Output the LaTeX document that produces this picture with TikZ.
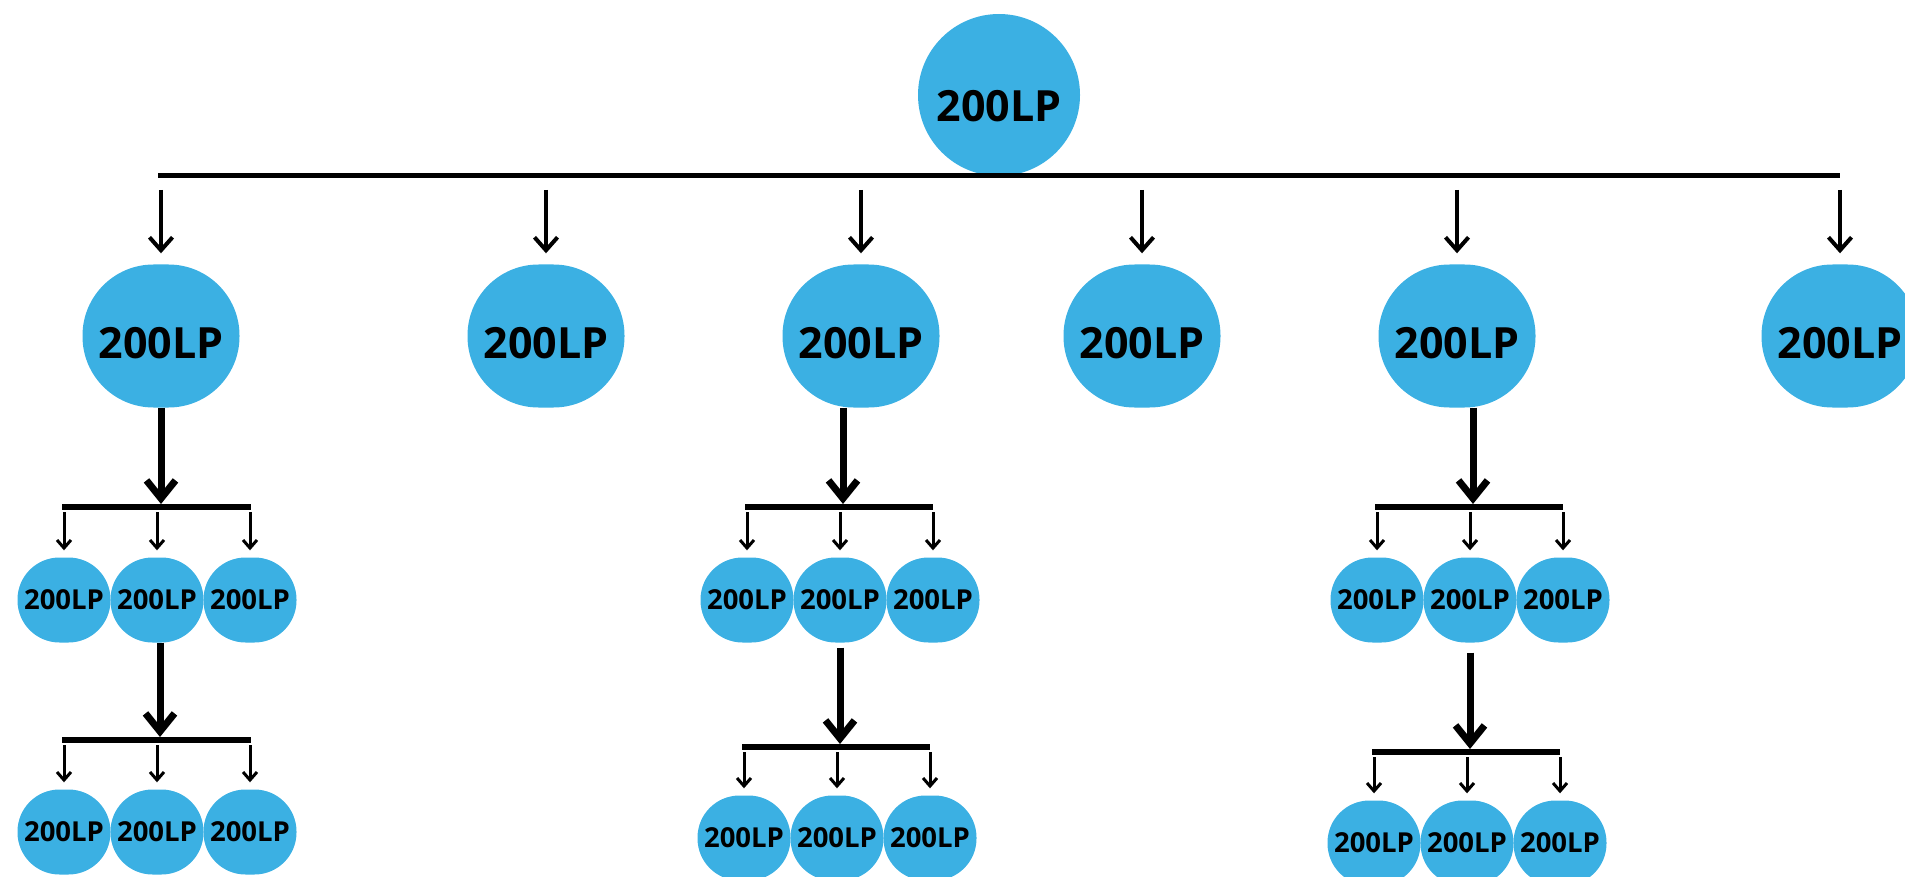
\documentclass[tikz,border=0pt]{standalone}
\usepackage{fontspec}
\setmainfont{Open Sans}
\usetikzlibrary{arrows.meta}
\definecolor{lpblue}{HTML}{3BB0E3}

\begin{document}
\begin{tikzpicture}[x=1pt, y=-1pt,
		rootnode/.style={circle, fill=lpblue, minimum size=162pt, inner sep=0pt, font=\fontsize{43}{43}\selectfont\bfseries, text height=54pt},
		midnode/.style={rectangle, rounded corners=71pt, fill=lpblue, minimum width=157pt, minimum height=143pt, inner sep=0pt, font=\fontsize{43}{43}\selectfont\bfseries, text height=45pt},
		leafnode/.style={rectangle, rounded corners=42pt, fill=lpblue, minimum width=93pt, minimum height=85pt, inner sep=0pt, font=\fontsize{27.5}{27.5}\selectfont\bfseries},
		topbar/.style={line width=5pt},
		subbar/.style={line width=6pt},
		toparrow/.style={line width=4pt, -{Straight Barb[length=13pt, width=23pt]}, shorten <=14pt, shorten >=11pt},
		bigarrow/.style={line width=7pt, -{Straight Barb[length=18pt, width=29pt]}, shorten >=3pt},
		smallarrow/.style={line width=3pt, -{Straight Barb[length=8pt, width=14pt]}, shorten <=5pt, shorten >=7pt}]
		\useasboundingbox (0,0) rectangle (1905,877);
		% root
		\node[rootnode] (root) at (999,95) {200LP};
		\coordinate (tl) at (158,176);
		\coordinate (tr) at (1840,176);
		\draw[topbar] (tl) -- (tr);
		% first row
		\node[midnode] (a1) at (161,336) {200LP};
		\node[midnode] (a2) at (546,336) {200LP};
		\node[midnode] (a3) at (861,336) {200LP};
		\node[midnode] (a4) at (1142,336) {200LP};
		\node[midnode] (a5) at (1457,336) {200LP};
		\node[midnode] (a6) at (1840,336) {200LP};
		\draw[toparrow] (a1 |- tl) -- (a1.north);
		\draw[toparrow] (a2 |- tl) -- (a2.north);
		\draw[toparrow] (a3 |- tl) -- (a3.north);
		\draw[toparrow] (a4 |- tl) -- (a4.north);
		\draw[toparrow] (a5 |- tl) -- (a5.north);
		\draw[toparrow] (a6 |- tl) -- (a6.north);
		% left branch
		\coordinate (b1l) at (62,507);
		\coordinate (b1r) at (251,507);
		\draw[subbar] (b1l) -- (b1r);
		\node[leafnode] (p1) at (64,600) {200LP};
		\node[leafnode] (p2) at (157,600) {200LP};
		\node[leafnode] (p3) at (250,600) {200LP};
		\draw[bigarrow] (a1.south) -- (a1.south |- b1l);
		\draw[smallarrow] (p1 |- b1l) -- (p1.north);
		\draw[smallarrow] (p2 |- b1l) -- (p2.north);
		\draw[smallarrow] (p3 |- b1l) -- (p3.north);
		\coordinate (c1l) at (62,740);
		\coordinate (c1r) at (251,740);
		\draw[subbar] (c1l) -- (c1r);
		\node[leafnode] (q1) at (64,832) {200LP};
		\node[leafnode] (q2) at (157,832) {200LP};
		\node[leafnode] (q3) at (250,832) {200LP};
		\draw[bigarrow] ([xshift=3pt]p2.south) -- ([xshift=3pt]p2.south |- c1l);
		\draw[smallarrow] (q1 |- c1l) -- (q1.north);
		\draw[smallarrow] (q2 |- c1l) -- (q2.north);
		\draw[smallarrow] (q3 |- c1l) -- (q3.north);
		% middle branch
		\coordinate (b2l) at (745,507);
		\coordinate (b2r) at (933,507);
		\draw[subbar] (b2l) -- (b2r);
		\node[leafnode] (p4) at (747,600) {200LP};
		\node[leafnode] (p5) at (840,600) {200LP};
		\node[leafnode] (p6) at (933,600) {200LP};
		\draw[bigarrow] ([xshift=3pt]a3.south -| p5) -- ([xshift=3pt]p5 |- b2l);
		\draw[smallarrow] (p4 |- b2l) -- (p4.north);
		\draw[smallarrow] (p5 |- b2l) -- (p5.north);
		\draw[smallarrow] (p6 |- b2l) -- (p6.north);
		\coordinate (c2l) at (742,747);
		\coordinate (c2r) at (930,747);
		\draw[subbar] (c2l) -- (c2r);
		\node[leafnode] (q4) at (744,838) {200LP};
		\node[leafnode] (q5) at (837,838) {200LP};
		\node[leafnode] (q6) at (930,838) {200LP};
		\draw[bigarrow, shorten <=5pt] (p5.south) -- (p5.south |- c2l);
		\draw[smallarrow] (q4 |- c2l) -- (q4.north);
		\draw[smallarrow] (q5 |- c2l) -- (q5.north);
		\draw[smallarrow] (q6 |- c2l) -- (q6.north);
		% right branch
		\coordinate (b3l) at (1375,507);
		\coordinate (b3r) at (1563,507);
		\draw[subbar] (b3l) -- (b3r);
		\node[leafnode] (p7) at (1377,600) {200LP};
		\node[leafnode] (p8) at (1470,600) {200LP};
		\node[leafnode] (p9) at (1563,600) {200LP};
		\draw[bigarrow] ([xshift=3pt]a5.south -| p8) -- ([xshift=3pt]p8 |- b3l);
		\draw[smallarrow] (p7 |- b3l) -- (p7.north);
		\draw[smallarrow] (p8 |- b3l) -- (p8.north);
		\draw[smallarrow] (p9 |- b3l) -- (p9.north);
		\coordinate (c3l) at (1372,752);
		\coordinate (c3r) at (1560,752);
		\draw[subbar] (c3l) -- (c3r);
		\node[leafnode] (q7) at (1374,843) {200LP};
		\node[leafnode] (q8) at (1467,843) {200LP};
		\node[leafnode] (q9) at (1560,843) {200LP};
		\draw[bigarrow, shorten <=10pt] (p8.south) -- (p8.south |- c3l);
		\draw[smallarrow] (q7 |- c3l) -- (q7.north);
		\draw[smallarrow] (q8 |- c3l) -- (q8.north);
		\draw[smallarrow] (q9 |- c3l) -- (q9.north);
	\end{tikzpicture}
\end{document}
